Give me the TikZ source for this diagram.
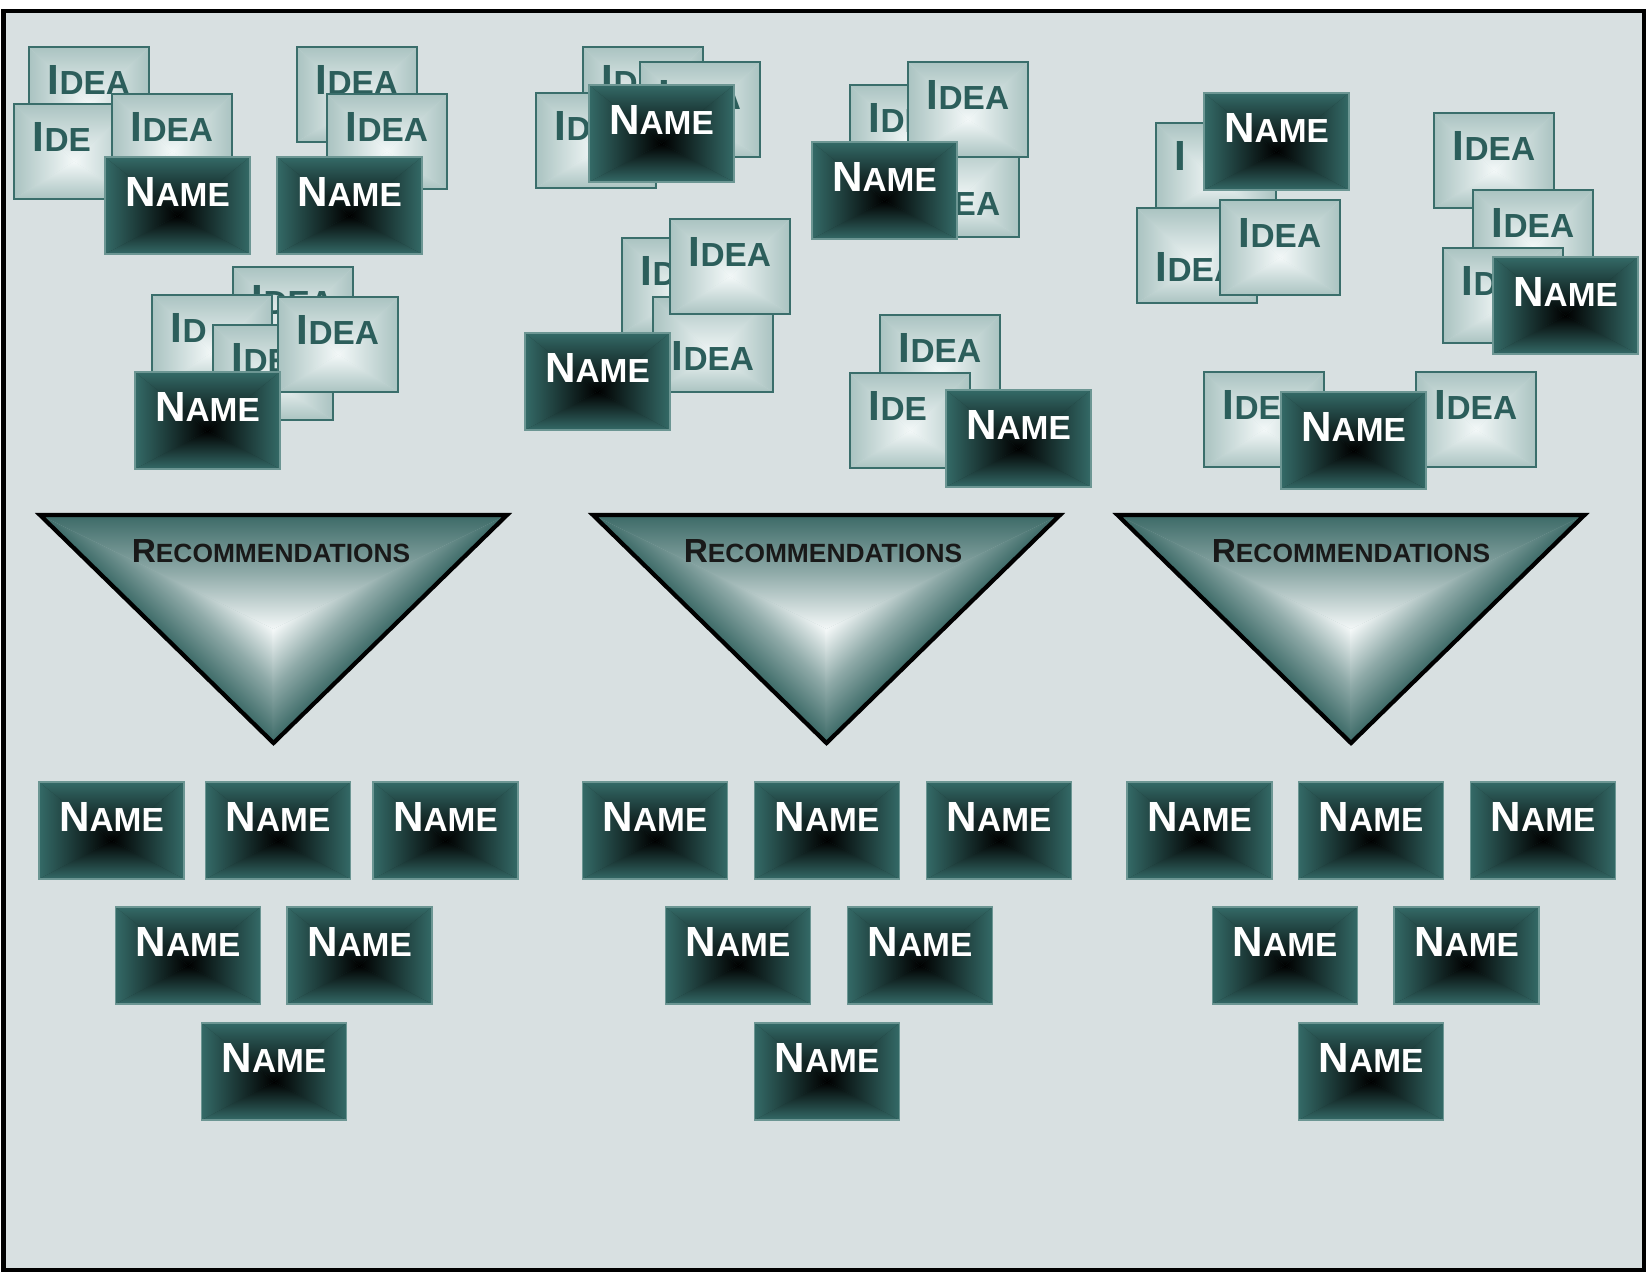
\documentclass[tikz,border=0pt]{standalone}
\usepackage{fontspec}
\setmainfont{Liberation Sans}
\usepackage{tikz}
\definecolor{bgpanel}{RGB}{216,224,225}
\definecolor{nameteal}{RGB}{52,106,103}
\definecolor{nameedge}{RGB}{108,150,147}
\definecolor{ideaedge}{RGB}{58,110,107}
\definecolor{ideatext}{RGB}{44,94,91}
\definecolor{ideacore}{RGB}{243,248,248}
\definecolor{ideashade}{RGB}{170,195,193}
\definecolor{reccore}{RGB}{244,248,248}
\definecolor{recedge}{RGB}{60,106,103}
% big first letter, smaller caps after it
\newcommand{\capword}[3]{#2{\fontsize{#1}{#1}\selectfont #3}}
\newcommand{\namecap}{\capword{9.5}{N}{AME}}
\newcommand{\ideacap}{\capword{9.5}{I}{DEA}}
\tikzset{
  panel/.style={draw=black, line width=1.2pt, fill=bgpanel},
  bevel/.style 2 args={fill=#1!50!#2, path picture={
      \path (path picture bounding box.north west) coordinate (bnw)
            (path picture bounding box.south east) coordinate (bse)
            ([yshift=-0.1cm]path picture bounding box.center) coordinate (bc);
      \shade[top color=#1, bottom color=#2] (bnw) -- (bnw -| bse) -- (bc) -- cycle;
      \shade[top color=#2, bottom color=#1] (bse) -- (bse -| bnw) -- (bc) -- cycle;
      \shade[left color=#1, right color=#2] (bnw) -- (bse -| bnw) -- (bc) -- cycle;
      \shade[left color=#2, right color=#1] (bse) -- (bnw -| bse) -- (bc) -- cycle;
  }},
  namebox/.style={rectangle, draw=nameedge, line width=0.4pt, bevel={nameteal}{black},
                  minimum width=1.45cm, minimum height=0.97cm, inner sep=0pt,
                  text height=0.49cm, text depth=0.48cm, text=white,
                  font=\bfseries\fontsize{12}{12}\selectfont},
  ideabox/.style={rectangle, draw=ideaedge, line width=0.8pt, bevel={ideashade}{ideacore},
                  minimum width=1.2cm, minimum height=0.95cm, inner sep=0pt,
                  text height=0.47cm, text depth=0.48cm, text=ideatext,
                  font=\bfseries\fontsize{12}{12}\selectfont},
  ideadown/.style={ideabox, text height=0.73cm, text depth=0.22cm},
  recline/.style={draw=black, line width=1.2pt},
  recface/.style={top color=reccore, bottom color=recedge, middle color=recedge!55!reccore},
  reclabel/.style={anchor=base, text=black!90, font=\bfseries\fontsize{9.5}{9.5}\selectfont},
}
\begin{document}
\begin{tikzpicture}
\useasboundingbox (0,0) rectangle (16.48,-12.75);
\fill[white] (0,0) rectangle (16.48,-12.75);
\draw[panel] (0.035,-0.11) rectangle (16.44,-12.70);

% Ideen-Stapel oben links
\node[ideabox] (i1a) at (0.89,-0.945) {\ideacap};
\node[ideabox] (i1b) at (0.74,-1.515) {\capword{9.5}{I}{DE\phantom{A}}};
\node[ideabox] (i1c) at (1.72,-1.415) {\ideacap};
\node[namebox] (n1) at (1.775,-2.055) {\namecap};

\node[ideabox] (i2a) at (3.57,-0.945) {\ideacap};
\node[ideabox] (i2b) at (3.87,-1.415) {\ideacap};
\node[namebox] (n2) at (3.495,-2.055) {\namecap};

\node[ideabox] (i3a) at (2.93,-3.145) {\ideacap};
\node[ideabox] (i3b) at (2.12,-3.425) {\capword{9.5}{I}{D\phantom{EA}}};
\node[ideabox] (i3c) at (2.73,-3.725) {\ideacap};
\node[ideabox] (i3d) at (3.38,-3.445) {\ideacap};
\node[namebox] (n3) at (2.075,-4.205) {\namecap};

% Mitte
\node[ideabox] (i4a) at (6.43,-0.945) {\ideacap};
\node[ideabox] (i4b) at (7.00,-1.095) {\ideacap};
\node[ideabox] (i4c) at (5.96,-1.405) {\ideacap};
\node[namebox] (n4) at (6.615,-1.335) {\namecap};

\node[ideabox] (i5a) at (9.10,-1.325) {\ideacap};
\node[ideadown] (i5b) at (9.59,-1.895) {\ideacap};
\node[ideabox] (i5c) at (9.68,-1.095) {\ideacap};
\node[namebox] (n5) at (8.845,-1.905) {\namecap};

\node[ideabox] (i6a) at (6.82,-2.855) {\ideacap};
\node[ideadown] (i6b) at (7.13,-3.445) {\ideacap};
\node[ideabox] (i6c) at (7.30,-2.665) {\ideacap};
\node[namebox] (n6) at (5.975,-3.815) {\namecap};

\node[ideabox] (i7a) at (9.40,-3.625) {\ideacap};
\node[ideabox] (i7b) at (9.10,-4.205) {\capword{9.5}{I}{DE\phantom{A}}};
\node[namebox] (n7) at (10.185,-4.385) {\namecap};

% rechts
\node[ideabox] (i8a) at (12.16,-1.705) {\capword{9.5}{I}{\phantom{DEA}}};
\node[ideadown] (i8b) at (11.97,-2.555) {\ideacap};
\node[ideabox] (i8c) at (12.80,-2.475) {\ideacap};
\node[namebox] (n8) at (12.765,-1.415) {\namecap};

\node[ideabox] (i9a) at (14.94,-1.605) {\ideacap};
\node[ideabox] (i9b) at (15.33,-2.375) {\ideacap};
\node[ideabox] (i9c) at (15.03,-2.955) {\ideacap};
\node[namebox] (n9) at (15.655,-3.055) {\namecap};

\node[ideabox] (i10a) at (12.64,-4.195) {\ideacap};
\node[ideabox] (i10b) at (14.76,-4.195) {\ideacap};
\node[namebox] (n10) at (13.535,-4.405) {\namecap};

% Trichter (abgeschraegt: drei Flaechen zur Mitte hin)
\foreach \cx in {2.735,8.265,13.51} {
  \begin{scope}
    \clip (\cx-2.335,-5.15) -- (\cx+2.335,-5.15) -- (\cx,-7.43) -- cycle;
    \fill[recedge!45!reccore] (\cx-2.4,-5.1) rectangle (\cx+2.4,-7.5);
    \shade[top color=recedge, bottom color=reccore, middle color=recedge!55!reccore]
      (\cx-2.335,-5.15) -- (\cx+2.335,-5.15) -- (\cx,-6.29) -- cycle;
    \begin{scope}[transform canvas={shift={(\cx-2.335,-5.15)}, rotate=-44.3}]
      \shade[recface] (0,0) -- (3.4,0) -- (2.6,0.815) -- (2.467,0.815) -- cycle;
    \end{scope}
    \begin{scope}[transform canvas={shift={(\cx+2.335,-5.15)}, rotate=44.3}]
      \shade[recface] (0,0) -- (-3.28,0) -- (-2.482,0.815) -- (-2.467,0.815) -- cycle;
    \end{scope}
  \end{scope}
  \draw[recline] (\cx-2.335,-5.15) -- (\cx+2.335,-5.15) -- (\cx,-7.43) -- cycle;
}
\node[reclabel] (rec1) at (2.71,-5.62) {\capword{7.5}{R}{ECOMMENDATIONS}};
\node[reclabel] (rec2) at (8.23,-5.62) {\capword{7.5}{R}{ECOMMENDATIONS}};
\node[reclabel] (rec3) at (13.51,-5.62) {\capword{7.5}{R}{ECOMMENDATIONS}};

% Ergebnisse unten
\node[namebox] (left1) at (1.115,-8.305) {\namecap};
\node[namebox] (left2) at (2.78,-8.305) {\namecap};
\node[namebox] (left3) at (4.455,-8.305) {\namecap};
\node[namebox] (left4) at (1.88,-9.555) {\namecap};
\node[namebox] (left5) at (3.595,-9.555) {\namecap};
\node[namebox] (left6) at (2.74,-10.715) {\namecap};

\node[namebox] (mid1) at (6.55,-8.305) {\namecap};
\node[namebox] (mid2) at (8.27,-8.305) {\namecap};
\node[namebox] (mid3) at (9.99,-8.305) {\namecap};
\node[namebox] (mid4) at (7.38,-9.555) {\namecap};
\node[namebox] (mid5) at (9.20,-9.555) {\namecap};
\node[namebox] (mid6) at (8.27,-10.715) {\namecap};

\node[namebox] (right1) at (11.995,-8.305) {\namecap};
\node[namebox] (right2) at (13.71,-8.305) {\namecap};
\node[namebox] (right3) at (15.43,-8.305) {\namecap};
\node[namebox] (right4) at (12.85,-9.555) {\namecap};
\node[namebox] (right5) at (14.665,-9.555) {\namecap};
\node[namebox] (right6) at (13.71,-10.715) {\namecap};
\end{tikzpicture}
\end{document}
